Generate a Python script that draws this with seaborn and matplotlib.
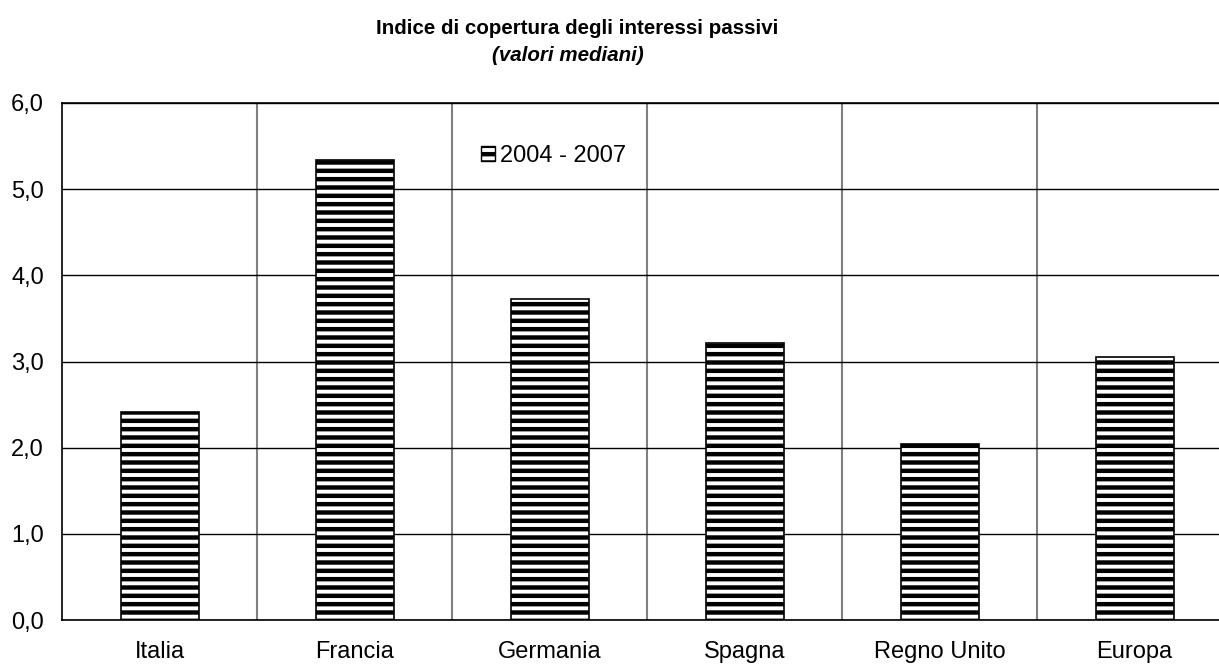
import matplotlib
matplotlib.use("Agg")
import matplotlib.pyplot as plt
import matplotlib.ticker as mticker
from matplotlib.patches import Patch
import seaborn as sns
import pandas as pd

categories = ["Italia", "Francia", "Germania", "Spagna", "Regno Unito", "Europa"]
values = [2.41, 5.34, 3.72, 3.22, 2.04, 3.05]
series_label = "2004 - 2007"
title = "Indice di copertura degli interessi passivi"
subtitle = "(valori mediani)"

sns.set_theme(style="white")
plt.rcParams['font.family'] = ['Liberation Sans', 'DejaVu Sans']
plt.rcParams['text.color'] = 'black'
plt.rcParams['hatch.linewidth'] = 3.2
plt.rcParams['hatch.color'] = '#1a1a1a'

df = pd.DataFrame({"cat": categories, "val": values})

fig = plt.figure(figsize=(12.19, 6.64), dpi=100)
ax = fig.add_axes([62/1219, 44/664, 1170/1219, 517/664])

sns.barplot(data=df, x="cat", y="val", ax=ax, color="white", edgecolor="black",
            linewidth=1.2, width=0.4, saturation=1)
for p in ax.patches:
    p.set_hatch("--")
    p.set_facecolor("white")
    p.set_edgecolor("black")

ax.set_xlim(-0.5, len(categories) - 0.5)
ax.set_ylim(0, 6)
ax.set_yticks([0, 1, 2, 3, 4, 5, 6])
ax.yaxis.set_major_formatter(mticker.FuncFormatter(lambda v, _: f"{v:.1f}".replace(".", ",")))
ax.set_xlabel("")
ax.set_ylabel("")

ax.grid(axis="y", which="major", color="black", linewidth=1.0)
ax.set_xticks([i + 0.5 for i in range(len(categories) - 1)], minor=True)
ax.grid(axis="x", which="minor", color="#7f7f7f", linewidth=1.5)
ax.grid(axis="x", which="major", visible=False)
ax.set_axisbelow(True)

for s in ax.spines.values():
    s.set_color("black")
    s.set_linewidth(1.2)
    s.set_visible(True)

ax.tick_params(axis="x", which="both", length=0, labelsize=17, pad=15, colors="black")
ax.tick_params(axis="y", which="major", length=0, labelsize=17, pad=13, colors="black")

handle = Patch(facecolor="white", edgecolor="black", hatch="--", label=series_label)
leg = ax.legend(handles=[handle], loc="center left", bbox_to_anchor=(0.358, 0.898),
                frameon=False, fontsize=17, handlelength=0.6, handleheight=0.6,
                handletextpad=0.2, borderaxespad=0, borderpad=0)
for t in leg.get_texts():
    t.set_color("black")

fig.text(577/1219, 1 - 34/664, title, ha="center", va="baseline", fontsize=14.8,
         fontweight="bold", color="black")
fig.text(568/1219, 1 - 61/664, subtitle, ha="center", va="baseline", fontsize=14.8,
         fontweight="bold", fontstyle="italic", color="black")

fig.savefig("out.png", dpi=100)
